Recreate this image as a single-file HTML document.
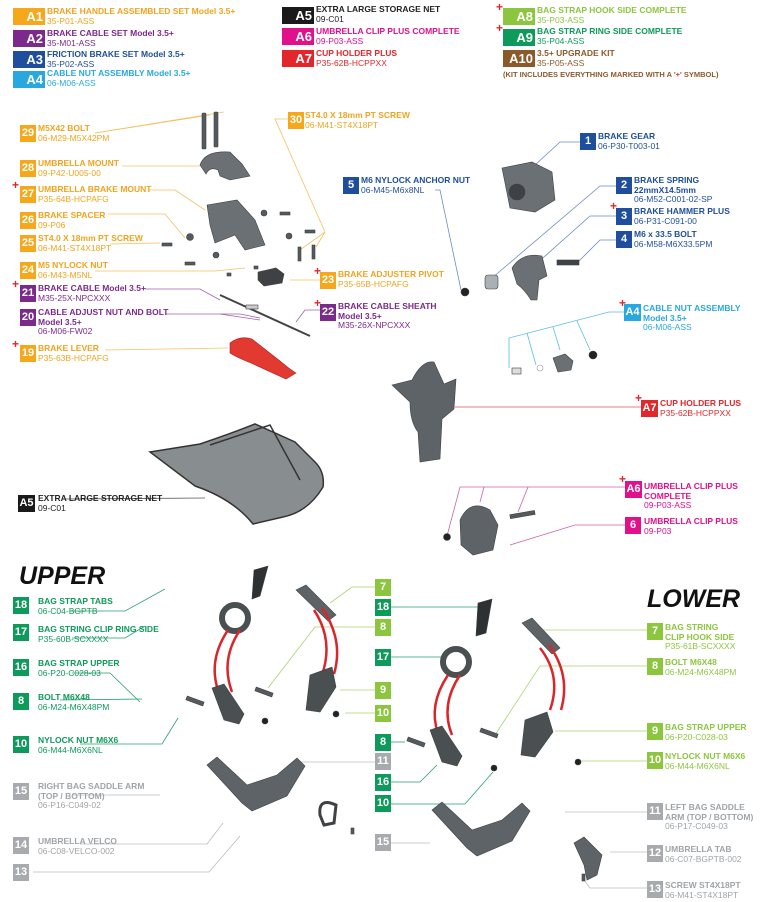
<!DOCTYPE html>
<html><head><meta charset="utf-8">
<style>
html,body{margin:0;padding:0;background:#fff;}
body{width:767px;height:902px;position:relative;overflow:hidden;font-family:"Liberation Sans Narrow","Liberation Sans",sans-serif;}
.L{position:absolute;font-weight:bold;font-size:8.5px;line-height:9.5px;white-space:nowrap;}
.L .t{display:block;}
.L .s{display:block;font-weight:normal;}
.b{position:absolute;color:#fff;font-weight:bold;text-align:center;font-family:"Liberation Sans Narrow","Liberation Sans",sans-serif;}
.hb{width:32px;height:17px;font-size:13px;line-height:17px;text-align:right;padding-right:2px;box-sizing:border-box;}
.pb{width:16px;height:17px;font-size:11px;line-height:17px;}
.cr{position:absolute;color:#e3262b;font-weight:bold;font-size:12px;line-height:10px;}
svg{position:absolute;left:0;top:0;}
.o{color:#f0a41e}.ob{background:#f5a81c}
.p{color:#7b2a8c}.pbg{background:#7b2a8c}
.d{color:#1f4e9c}.db{background:#1f4e9c}
.lb{color:#29a8e0}.lbb{background:#29a8e0}
.k{color:#222}.kb{background:#1a1a1a}
.m{color:#e0118a}.mb{background:#e0118a}
.r{color:#e3262b}.rb{background:#e3262b}
.g{color:#8cc63f}.gb{background:#8cc63f}
.G{color:#0e9a5a}.Gb{background:#0e9a5a}
.br{color:#8b5a2b}.brb{background:#8b5a2b}
.y{color:#a0a4a8}.yb{background:#a7abaf}
.big{position:absolute;font-weight:bold;font-style:italic;font-size:25px;font-family:"Liberation Sans",sans-serif;color:#111;}
</style></head><body>

<svg width="767" height="902" viewBox="0 0 767 902">
<g fill="none" stroke-width="0.8">
<g stroke="#f5c060">
<line x1="95" y1="133" x2="210" y2="115"/><line x1="95" y1="133" x2="224" y2="112"/>
<line x1="122" y1="166" x2="200" y2="166"/>
<polyline points="148,190 175,190 205,210"/>
<polyline points="108,214 165,214 185,238"/>
<line x1="110" y1="244" x2="160" y2="243"/>
<polyline points="95,271 215,271 245,268"/>
<line x1="105" y1="350" x2="228" y2="348"/>
<polyline points="289,119 275,119 325,232"/><line x1="325" y1="232" x2="300" y2="250"/><line x1="325" y1="232" x2="316" y2="247"/>
<line x1="290" y1="280" x2="320" y2="280"/>
</g>
<g stroke="#a060b0">
<polyline points="145,289 200,289 220,300"/>
<polyline points="165,314 240,314 260,318"/><line x1="220" y1="314" x2="260" y2="320"/>
<polyline points="320,310 305,310 296,322"/>
</g>
<g stroke="#6a8cc8">
<polyline points="581,142 560,142 535,165"/>
<polyline points="435,190 440,190 461,290"/>
<polyline points="616,186 600,186 492,278"/>
<polyline points="616,216 590,216 535,265"/>
<polyline points="616,240 600,240 578,262"/>
</g>
<g stroke="#58bfe0">
<polyline points="625,312 609,312 509,338 509,368"/>
<line x1="527" y1="333" x2="536" y2="365"/><line x1="553" y1="327" x2="560" y2="350"/><line x1="577" y1="321" x2="590" y2="350"/>
</g>
<line x1="455" y1="407" x2="641" y2="407" stroke="#e05058"/>
<line x1="63" y1="499" x2="205" y2="498" stroke="#555"/>
<g stroke="#d060a8">
<polyline points="625,487 460,487 447,536"/>
<line x1="484" y1="487" x2="480" y2="502"/><line x1="528" y1="487" x2="518" y2="512"/>
<polyline points="625,525 575,525 510,545"/>
</g>
<g stroke="#2aa070">
<polyline points="70,611 125,611 165,589"/>
<polyline points="72,638 125,638 145,626"/>
<polyline points="72,673 110,673 140,702"/>
<line x1="60" y1="700" x2="142" y2="699"/>
<polyline points="80,744 162,744 178,718"/>
<line x1="391" y1="607" x2="478" y2="607"/>
<line x1="391" y1="657" x2="442" y2="657"/>
<line x1="391" y1="742" x2="405" y2="742"/>
<polyline points="391,782 420,782 437,765"/>
<polyline points="391,804 465,804 493,772"/>
</g>
<g stroke="#a8d470">
<polyline points="375,587 352,587 330,603"/>
<polyline points="375,627 315,627 268,688"/>
<line x1="375" y1="690" x2="340" y2="690"/>
<line x1="375" y1="713" x2="345" y2="713"/>
<line x1="647" y1="630" x2="535" y2="630"/>
<polyline points="647,666 540,666 495,735"/>
<line x1="647" y1="731" x2="555" y2="731"/>
<line x1="647" y1="761" x2="580" y2="761"/>
</g>
<g stroke="#b8bcc0">
<line x1="375" y1="762" x2="300" y2="762"/>
<line x1="73" y1="795" x2="160" y2="795"/>
<polyline points="80,844 207,844 223,823"/>
<polyline points="33,872 209,872 240,836"/>
<line x1="375" y1="843" x2="430" y2="843"/>
<line x1="647" y1="812" x2="565" y2="812"/>
<line x1="647" y1="852" x2="610" y2="852"/>
<polyline points="647,888 590,888 584,880"/>
</g>
</g>

<g fill="#555a5e" stroke="#3e4245" stroke-width="0.6">
<rect x="202" y="113" width="4" height="36" rx="1"/><rect x="214" y="112" width="4" height="35" rx="1"/>
<path d="M200,165 q5,-15 30,-13 l12,12 l8,12 l-20,4 l-10,-4 l-2,-6 q-8,-4 -12,4 z" fill="#6b7074"/>
<path d="M207,205 l30,-5 l18,20 l10,25 l-20,5 l-10,-15 l-20,8 l-5,-18 z" fill="#6b7074"/>
<circle cx="190" cy="237" r="3.5"/><circle cx="216" cy="255" r="3"/><circle cx="264" cy="213" r="3"/><circle cx="289" cy="236" r="3"/>
<rect x="162" y="243" width="10" height="3"/><rect x="185" y="262" width="10" height="3"/><rect x="280" y="212" width="10" height="3"/><rect x="305" y="230" width="10" height="3"/>
<rect x="298" y="247" width="3" height="14"/><rect x="312" y="245" width="3" height="14"/>
<rect x="254" y="266" width="4" height="3"/><rect x="227" y="273" width="4" height="3"/>
<path d="M258,272 l18,-4 l8,6 l-2,9 l-18,3 l-6,-6 z" fill="#3e4245"/>
<line x1="220" y1="295" x2="310" y2="336" stroke="#444" stroke-width="2"/>
<rect x="246" y="305" width="12" height="4" fill="#ccc"/>
<path d="M230,343 q10,-8 22,-4 l28,22 q12,10 16,12 l-10,6 l-35,-16 q-15,-6 -21,-10 z" fill="#e23a30" stroke="#b02020"/>
<path d="M502,168 l30,-6 l20,10 l3,28 l-20,12 l-25,-4 z" fill="#6b7074"/>
<circle cx="517" cy="192" r="8" fill="#3e4245"/>
<circle cx="465" cy="292" r="4" fill="#222"/>
<rect x="485" y="275" width="13" height="14" rx="3" fill="#aab0b4"/>
<path d="M512,268 q10,-16 30,-12 l5,20 l-8,4 l-2,20 l-6,0 q-6,-10 -14,-16 z" fill="#6b7074"/>
<rect x="557" y="260" width="22" height="5" fill="#3e4245"/>
<rect x="512" y="368" width="9" height="6" fill="#ddd"/><circle cx="540" cy="368" r="3" fill="none" stroke="#999"/>
<path d="M553,358 l12,-4 l8,7 l-2,9 l-13,2 z" fill="#6b7074"/><circle cx="593" cy="355" r="4" fill="#222"/>
<path d="M392,385 l20,-5 q10,-20 22,-18 l10,22 l12,-5 l-2,30 l-12,10 l-2,40 l-20,3 l-2,-30 q-8,-10 -8,-30 z" fill="#5e6367"/>
<path d="M150,452 l50,-8 q30,-10 55,-20 l40,18 l20,20 q10,10 8,25 q-15,25 -40,30 l-30,7 q-20,-25 -58,-38 z" fill="#888d90" stroke="#333" stroke-width="1.5"/>
<path d="M210,445 l60,-20 l30,55" fill="none" stroke="#333" stroke-width="1.5"/>
<path d="M460,520 q10,-22 30,-10 l8,15 l-5,25 l-20,5 l-12,-10 z" fill="#5e6367"/>
<rect x="510" y="513" width="25" height="4" transform="rotate(-10 520 515)"/>
<circle cx="447" cy="537" r="3.5" fill="#222"/>
<!-- UPPER -->
<path d="M254,570 l14,-4 l-8,30 l-8,3 z" fill="#2e3134"/>
<circle cx="235" cy="618" r="13" fill="none" stroke="#4a4f52" stroke-width="6"/>
<path d="M228,630 q-20,30 -10,60 M240,630 q-20,30 -8,62" fill="none" stroke="#d8262a" stroke-width="2.5"/>
<path d="M212,688 l12,-4 l20,30 l-5,10 l-15,-4 z" fill="#4a4f52"/>
<rect x="186" y="699" width="18" height="4" transform="rotate(20 195 701)"/>
<rect x="255" y="690" width="18" height="4" transform="rotate(20 264 692)"/>
<circle cx="265" cy="721" r="3" fill="#222"/>
<path d="M296,590 l10,-5 l30,30 l-8,6 z" fill="#5e6367"/>
<path d="M314,610 q20,30 8,65 M322,608 q22,32 12,66" fill="none" stroke="#d8262a" stroke-width="2.5"/>
<path d="M310,675 l22,-8 l4,20 l-16,25 l-14,-2 z" fill="#4a4f52"/>
<circle cx="336" cy="714" r="3" fill="#222"/>
<path d="M207,765 l10,-8 l30,28 l30,-10 l20,-17 l8,8 l-18,30 l-35,15 l-10,-8 z" fill="#5e6367"/>
<path d="M336,805 q-18,-8 -16,10 l4,10 l10,-2 z" fill="none" stroke="#3e4245" stroke-width="3"/>
<rect x="351" y="828" width="3" height="6"/>
<!-- LOWER -->
<path d="M478,603 l14,-4 l-6,34 l-10,3 z" fill="#2e3134"/>
<circle cx="456" cy="662" r="13" fill="none" stroke="#4a4f52" stroke-width="6"/>
<path d="M448,675 q-20,30 -10,58 M460,675 q-20,30 -8,60" fill="none" stroke="#d8262a" stroke-width="2.5"/>
<path d="M430,730 l12,-4 l20,30 l-5,10 l-15,-4 z" fill="#4a4f52"/>
<rect x="407" y="740" width="18" height="4" transform="rotate(20 416 742)"/>
<rect x="480" y="731" width="18" height="4" transform="rotate(20 489 733)"/>
<circle cx="494" cy="768" r="3" fill="#222"/>
<path d="M522,623 l10,-5 l28,30 l-8,6 z" fill="#5e6367"/>
<path d="M540,648 q22,28 10,62 M549,645 q22,30 12,65" fill="none" stroke="#d8262a" stroke-width="2.5"/>
<path d="M525,720 l22,-8 l6,20 l-18,25 l-14,-2 z" fill="#4a4f52"/>
<circle cx="578" cy="762" r="3" fill="#222"/>
<path d="M432,810 l10,-8 l30,28 l30,-10 l20,-17 l8,8 l-18,30 l-35,15 l-10,-8 z" fill="#5e6367"/>
<path d="M574,843 l10,-6 l18,18 l-5,20 l-10,5 l-3,-15 z" fill="#5e6367"/>
<rect x="582" y="874" width="3" height="7"/>
</g>
</svg>

<div class="b hb ob" style="left:13px;top:8px">A1</div><div class="L o" style="left:47px;top:7px"><span class="t">BRAKE HANDLE ASSEMBLED SET Model 3.5+</span><span class="s">35-P01-ASS</span></div>
<div class="b hb pbg" style="left:13px;top:30px">A2</div><div class="L p" style="left:47px;top:29px"><span class="t">BRAKE CABLE SET Model 3.5+</span><span class="s">35-M01-ASS</span></div>
<div class="b hb db" style="left:13px;top:51px">A3</div><div class="L d" style="left:47px;top:50px"><span class="t">FRICTION BRAKE SET Model 3.5+</span><span class="s">35-P02-ASS</span></div>
<div class="b hb lbb" style="left:13px;top:71px">A4</div><div class="L lb" style="left:47px;top:69px"><span class="t">CABLE NUT ASSEMBLY Model 3.5+</span><span class="s">06-M06-ASS</span></div>
<div class="b hb kb" style="left:282px;top:7px">A5</div><div class="L k" style="left:316px;top:5px"><span class="t">EXTRA LARGE STORAGE NET</span><span class="s">09-C01</span></div>
<div class="b hb mb" style="left:282px;top:28px">A6</div><div class="L m" style="left:316px;top:27px"><span class="t">UMBRELLA CLIP PLUS COMPLETE</span><span class="s">09-P03-ASS</span></div>
<div class="b hb rb" style="left:282px;top:50px">A7</div><div class="L r" style="left:316px;top:49px"><span class="t">CUP HOLDER PLUS</span><span class="s">P35-62B-HCPPXX</span></div>
<div class="cr" style="left:496px;top:2px">+</div><div class="b hb gb" style="left:503px;top:8px">A8</div><div class="L g" style="left:537px;top:6px"><span class="t">BAG STRAP HOOK SIDE COMPLETE</span><span class="s">35-P03-ASS</span></div>
<div class="cr" style="left:496px;top:23px">+</div><div class="b hb Gb" style="left:503px;top:29px">A9</div><div class="L G" style="left:537px;top:27px"><span class="t">BAG STRAP RING SIDE COMPLETE</span><span class="s">35-P04-ASS</span></div>
<div class="b hb brb" style="left:503px;top:50px">A10</div><div class="L br" style="left:537px;top:49px"><span class="t">3.5+ UPGRADE KIT</span><span class="s">35-P05-ASS</span></div>
<div class="L br" style="left:503px;top:70px;font-size:7.5px">(KIT INCLUDES EVERYTHING MARKED WITH A '<span style="color:#e3262b">+</span>' SYMBOL)</div>

<div class="b pb ob" style="left:20px;top:125px">29</div><div class="L o" style="left:38px;top:124px"><span class="t">M5X42 BOLT</span><span class="s">06-M29-M5X42PM</span></div>
<div class="b pb ob" style="left:20px;top:160px">28</div><div class="L o" style="left:38px;top:159px"><span class="t">UMBRELLA MOUNT</span><span class="s">09-P42-U005-00</span></div>
<div class="cr" style="left:12px;top:180px">+</div><div class="b pb ob" style="left:20px;top:186px">27</div><div class="L o" style="left:38px;top:185px"><span class="t">UMBRELLA BRAKE MOUNT</span><span class="s">P35-64B-HCPAFG</span></div>
<div class="b pb ob" style="left:20px;top:212px">26</div><div class="L o" style="left:38px;top:211px"><span class="t">BRAKE SPACER</span><span class="s">09-P06</span></div>
<div class="b pb ob" style="left:20px;top:235px">25</div><div class="L o" style="left:38px;top:234px"><span class="t">ST4.0 X 18mm PT SCREW</span><span class="s">06-M41-ST4X18PT</span></div>
<div class="b pb ob" style="left:20px;top:262px">24</div><div class="L o" style="left:38px;top:261px"><span class="t">M5 NYLOCK NUT</span><span class="s">06-M43-M5NL</span></div>
<div class="cr" style="left:12px;top:279px">+</div><div class="b pb pbg" style="left:20px;top:285px">21</div><div class="L p" style="left:38px;top:284px"><span class="t">BRAKE CABLE Model 3.5+</span><span class="s">M35-25X-NPCXXX</span></div>
<div class="b pb pbg" style="left:20px;top:309px">20</div><div class="L p" style="left:38px;top:308px"><span class="t">CABLE ADJUST NUT AND BOLT</span><span class="t">Model 3.5+</span><span class="s">06-M06-FW02</span></div>
<div class="cr" style="left:12px;top:339px">+</div><div class="b pb ob" style="left:20px;top:345px">19</div><div class="L o" style="left:38px;top:344px"><span class="t">BRAKE LEVER</span><span class="s">P35-63B-HCPAFG</span></div>
<div class="b pb ob" style="left:288px;top:112px">30</div><div class="L o" style="left:305px;top:111px"><span class="t">ST4.0 X 18mm PT SCREW</span><span class="s">06-M41-ST4X18PT</span></div>
<div class="cr" style="left:314px;top:266px">+</div><div class="b pb ob" style="left:320px;top:272px">23</div><div class="L o" style="left:338px;top:270px"><span class="t">BRAKE ADJUSTER PIVOT</span><span class="s">P35-65B-HCPAFG</span></div>
<div class="cr" style="left:314px;top:298px">+</div><div class="b pb pbg" style="left:320px;top:304px">22</div><div class="L p" style="left:338px;top:302px"><span class="t">BRAKE CABLE SHEATH</span><span class="t">Model 3.5+</span><span class="s">M35-26X-NPCXXX</span></div>

<div class="b pb db" style="left:343px;top:177px">5</div><div class="L d" style="left:361px;top:176px"><span class="t">M6 NYLOCK ANCHOR NUT</span><span class="s">06-M45-M6x8NL</span></div>
<div class="b pb db" style="left:580px;top:133px">1</div><div class="L d" style="left:598px;top:132px"><span class="t">BRAKE GEAR</span><span class="s">06-P30-T003-01</span></div>
<div class="b pb db" style="left:616px;top:177px">2</div><div class="L d" style="left:634px;top:176px"><span class="t">BRAKE SPRING</span><span class="t">22mmX14.5mm</span><span class="s">06-M52-C001-02-SP</span></div>
<div class="cr" style="left:610px;top:201px">+</div><div class="b pb db" style="left:616px;top:208px">3</div><div class="L d" style="left:634px;top:207px"><span class="t">BRAKE HAMMER PLUS</span><span class="s">06-P31-C091-00</span></div>
<div class="b pb db" style="left:616px;top:231px">4</div><div class="L d" style="left:634px;top:230px"><span class="t">M6 x 33.5 BOLT</span><span class="s">06-M58-M6X33.5PM</span></div>
<div class="cr" style="left:619px;top:298px">+</div><div class="b hb lbb" style="left:624px;top:304px;width:17px;font-size:11px;text-align:center;padding:0">A4</div><div class="L lb" style="left:643px;top:304px"><span class="t">CABLE NUT ASSEMBLY</span><span class="t">Model 3.5+</span><span class="s">06-M06-ASS</span></div>
<div class="cr" style="left:635px;top:393px">+</div><div class="b hb rb" style="left:641px;top:400px;width:17px;font-size:11px;text-align:center;padding:0">A7</div><div class="L r" style="left:660px;top:399px"><span class="t">CUP HOLDER PLUS</span><span class="s">P35-62B-HCPPXX</span></div>
<div class="b hb kb" style="left:18px;top:495px;width:17px;font-size:11px;text-align:center;padding:0">A5</div><div class="L k" style="left:38px;top:494px"><span class="t">EXTRA LARGE STORAGE NET</span><span class="s">09-C01</span></div>
<div class="cr" style="left:619px;top:474px">+</div><div class="b hb mb" style="left:625px;top:481px;width:17px;font-size:11px;text-align:center;padding:0">A6</div><div class="L m" style="left:644px;top:482px"><span class="t">UMBRELLA CLIP PLUS</span><span class="t">COMPLETE</span><span class="s">09-P03-ASS</span></div>
<div class="b pb mb" style="left:625px;top:517px">6</div><div class="L m" style="left:644px;top:517px"><span class="t">UMBRELLA CLIP PLUS</span><span class="s">09-P03</span></div>

<div class="big" style="left:19px;top:562px">UPPER</div>
<div class="big" style="left:647px;top:585px">LOWER</div>

<div class="b pb Gb" style="left:13px;top:597px">18</div><div class="L G" style="left:38px;top:597px"><span class="t">BAG STRAP TABS</span><span class="s">06-C04-BGPTB</span></div>
<div class="b pb Gb" style="left:13px;top:624px">17</div><div class="L G" style="left:38px;top:625px"><span class="t">BAG STRING CLIP RING SIDE</span><span class="s">P35-60B-SCXXXX</span></div>
<div class="b pb Gb" style="left:13px;top:659px">16</div><div class="L G" style="left:38px;top:659px"><span class="t">BAG STRAP UPPER</span><span class="s">06-P20-C028-03</span></div>
<div class="b pb Gb" style="left:13px;top:693px">8</div><div class="L G" style="left:38px;top:693px"><span class="t">BOLT M6X48</span><span class="s">06-M24-M6X48PM</span></div>
<div class="b pb Gb" style="left:13px;top:736px">10</div><div class="L G" style="left:38px;top:736px"><span class="t">NYLOCK NUT M6X6</span><span class="s">06-M44-M6X6NL</span></div>
<div class="b pb yb" style="left:13px;top:783px">15</div><div class="L y" style="left:38px;top:782px"><span class="t">RIGHT BAG SADDLE ARM</span><span class="t">(TOP / BOTTOM)</span><span class="s">06-P16-C049-02</span></div>
<div class="b pb yb" style="left:13px;top:837px">14</div><div class="L y" style="left:38px;top:837px"><span class="t">UMBRELLA VELCO</span><span class="s">06-C08-VELCO-002</span></div>
<div class="b pb yb" style="left:13px;top:864px">13</div>

<div class="b pb gb" style="left:375px;top:579px">7</div>
<div class="b pb Gb" style="left:375px;top:599px">18</div>
<div class="b pb gb" style="left:375px;top:619px">8</div>
<div class="b pb Gb" style="left:375px;top:649px">17</div>
<div class="b pb gb" style="left:375px;top:682px">9</div>
<div class="b pb gb" style="left:375px;top:705px">10</div>
<div class="b pb Gb" style="left:375px;top:734px">8</div>
<div class="b pb yb" style="left:375px;top:753px">11</div>
<div class="b pb Gb" style="left:375px;top:774px">16</div>
<div class="b pb Gb" style="left:375px;top:795px">10</div>
<div class="b pb yb" style="left:375px;top:834px">15</div>

<div class="b pb gb" style="left:647px;top:623px">7</div><div class="L g" style="left:665px;top:623px"><span class="t">BAG STRING</span><span class="t">CLIP HOOK SIDE</span><span class="s">P35-61B-SCXXXX</span></div>
<div class="b pb gb" style="left:647px;top:658px">8</div><div class="L g" style="left:665px;top:658px"><span class="t">BOLT M6X48</span><span class="s">06-M24-M6X48PM</span></div>
<div class="b pb gb" style="left:647px;top:723px">9</div><div class="L g" style="left:665px;top:723px"><span class="t">BAG STRAP UPPER</span><span class="s">06-P20-C028-03</span></div>
<div class="b pb gb" style="left:647px;top:752px">10</div><div class="L g" style="left:665px;top:752px"><span class="t">NYLOCK NUT M6X6</span><span class="s">06-M44-M6X6NL</span></div>
<div class="b pb yb" style="left:647px;top:803px">11</div><div class="L y" style="left:665px;top:803px"><span class="t">LEFT BAG SADDLE</span><span class="t">ARM (TOP / BOTTOM)</span><span class="s">06-P17-C049-03</span></div>
<div class="b pb yb" style="left:647px;top:845px">12</div><div class="L y" style="left:665px;top:845px"><span class="t">UMBRELLA TAB</span><span class="s">06-C07-BGPTB-002</span></div>
<div class="b pb yb" style="left:647px;top:881px">13</div><div class="L y" style="left:665px;top:881px"><span class="t">SCREW ST4X18PT</span><span class="s">06-M41-ST4X18PT</span></div>

</body></html>
